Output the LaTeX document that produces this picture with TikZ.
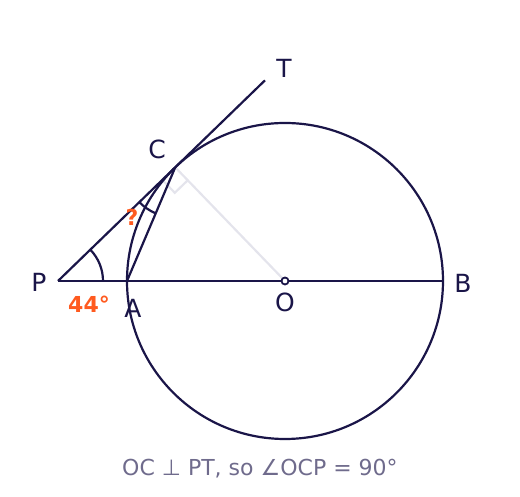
\documentclass[tikz,border=0pt]{standalone}
\usepackage{fontspec}
\setmainfont{DejaVu Sans}
\usetikzlibrary{angles,quotes,calc}

\definecolor{ink}{HTML}{1A1548}
\definecolor{hot}{HTML}{FF5A1F}
\definecolor{faint}{HTML}{E4E4EC}
\definecolor{note}{HTML}{6F6B8C}

\tikzset{
    pointlabel/.style={text=ink, font=\fontsize{25}{30}\selectfont, inner sep=0pt},
    anglelabel/.style={text=hot, font=\fontsize{22}{26}\selectfont\bfseries, inner sep=0pt},
    helper/.style={draw=faint, line width=2.2pt}
}

\begin{document}
\begin{tikzpicture}[x=1pt, y=1pt, line width=2.2pt]
            \useasboundingbox (-285,-216) rectangle (235,281);

            \coordinate (O) at (0,0);
            \coordinate (P) at (-227,0);
            \coordinate (A) at (-158,0);
            \coordinate (B) at (158,0);
            \coordinate (C) at (134:158);
            \coordinate (T) at ($(C)!-125pt!(P)$);

            % radius to the point of contact
            \draw[helper] (C) -- (O);
            \draw[helper] ($(C)+(224:18)$) -- ($(C)+(224:18)+(314:18)$) -- ($(C)+(314:18)$);

            \draw[ink] (O) circle (158);
            \draw[ink] (P) -- (B);
            \draw[ink] (P) -- (T);
            \draw[ink] (C) -- (A);
            \draw[ink, line width=1.8pt, fill=white] (O) circle (3.5);

            \pic[draw=ink, angle radius=45pt] {angle = A--P--C};
            \pic[draw=ink, angle radius=50pt] {angle = P--C--A};

            \node[pointlabel] (Plabel) at (-246,-1) {P};
            \node[pointlabel] (Alabel) at (-152,-27) {A};
            \node[pointlabel] (Olabel) at (0,-21) {O};
            \node[pointlabel] (Blabel) at (178,-2) {B};
            \node[pointlabel] (Clabel) at (-128,132) {C};
            \node[pointlabel] (Tlabel) at (-1,213) {T};

            \node[anglelabel] (given) at (-196,-23) {44°};
            \node[anglelabel] (unknown) at (-153,64) {?};

            \node[text=note, font=\fontsize{22}{26}\selectfont] (caption) at (-25,-188) {OC ⊥ PT, so ∠OCP = 90°};
        \end{tikzpicture}
\end{document}
